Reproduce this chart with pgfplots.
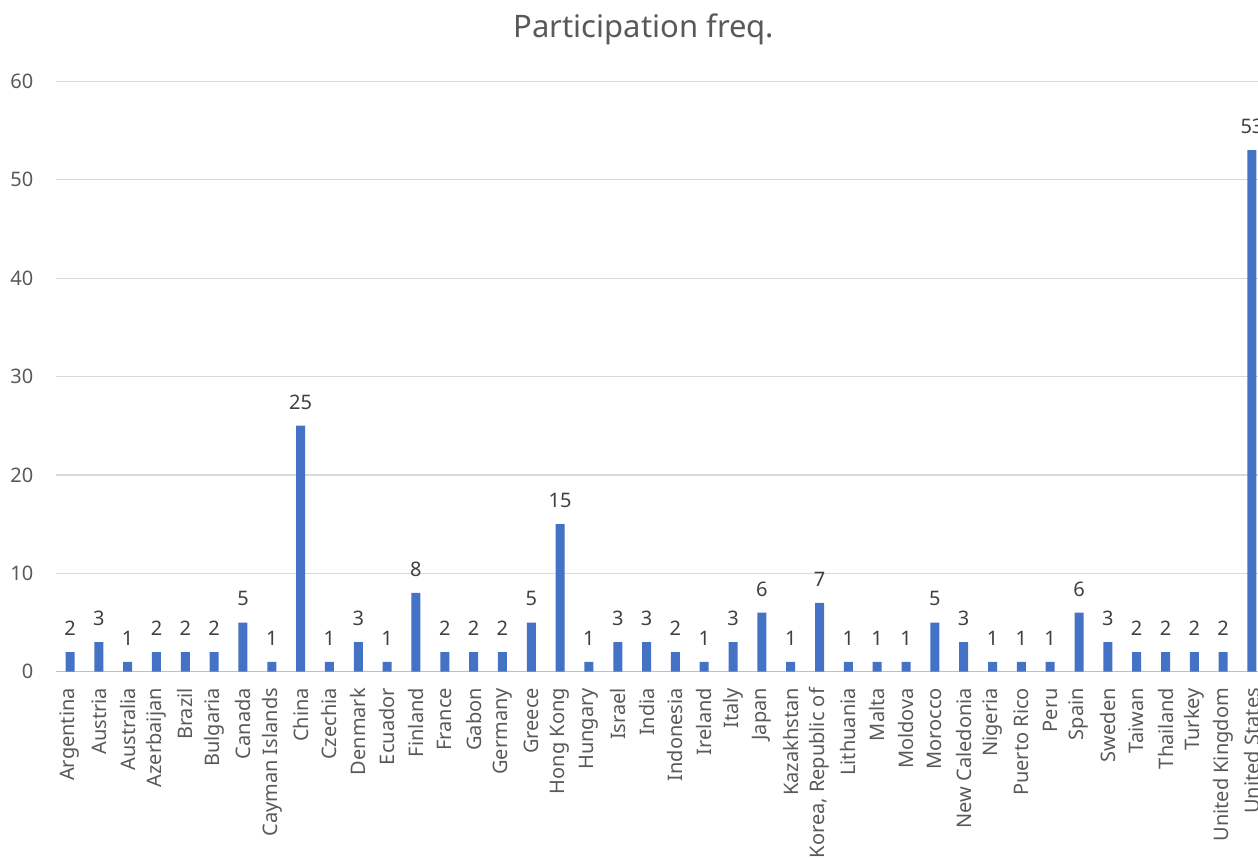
\documentclass[border=0pt]{standalone}
\usepackage{fontspec}
\setmainfont{Noto Sans}
\usepackage{pgfplots}
\pgfplotsset{compat=1.18}
\definecolor{barblue}{HTML}{4472C4}
\definecolor{labelgray}{HTML}{595959}
\definecolor{valgray}{HTML}{404040}
\definecolor{gridgray}{HTML}{D9D9D9}
\definecolor{axisgray}{HTML}{BFBFBF}
\begin{document}
\begin{tikzpicture}
\begin{axis}[
  at={(0,0)}, anchor=south west,
  scale only axis, width=605.4bp, height=295.2bp,
  xmin=-0.5, xmax=41.5, ymin=0, ymax=60,
  /pgf/number format/assume math mode=true,
  ytick={0,10,...,60},
  xtick={0,...,41},
  xticklabels={Argentina,Austria,Australia,Azerbaijan,Brazil,Bulgaria,Canada,
    Cayman Islands,China,Czechia,Denmark,Ecuador,Finland,France,Gabon,Germany,
    Greece,Hong Kong,Hungary,Israel,India,Indonesia,Ireland,Italy,Japan,
    Kazakhstan,{Korea, Republic of},Lithuania,Malta,Moldova,Morocco,
    New Caledonia,Nigeria,Puerto Rico,Peru,Spain,Sweden,Taiwan,Thailand,
    Turkey,United Kingdom,United States},
  ybar, bar width=4.5bp,
  axis x line*=bottom, axis y line*=left,
  x axis line style={-, draw=axisgray, line width=0.7bp},
  y axis line style={draw=none},
  ymajorgrids, grid style={draw=gridgray, line width=0.6bp},
  major tick length=0pt,
  tick label style={font=\fontsize{10bp}{12bp}\selectfont, text=labelgray, inner sep=0pt},
  xticklabel style={rotate=90, anchor=east},
  xticklabel shift=8bp,
  yticklabel style={anchor=east},
  yticklabel shift=11bp,
  nodes near coords,
  nodes near coords style={font=\fontsize{10bp}{12bp}\selectfont, text=valgray,
    inner sep=0pt, anchor=south, yshift=8bp},
  title={Participation freq.},
  title style={font=\fontsize{15.5bp}{18bp}\selectfont, text=labelgray,
    at={(0.5,1)}, anchor=base, yshift=15.7bp, xshift=-8.5bp},
]
\addplot[fill=barblue, draw=none] coordinates {
  (0,2) (1,3) (2,1) (3,2) (4,2) (5,2) (6,5) (7,1) (8,25) (9,1)
  (10,3) (11,1) (12,8) (13,2) (14,2) (15,2) (16,5) (17,15) (18,1) (19,3)
  (20,3) (21,2) (22,1) (23,3) (24,6) (25,1) (26,7) (27,1) (28,1) (29,1)
  (30,5) (31,3) (32,1) (33,1) (34,1) (35,6) (36,3) (37,2) (38,2) (39,2)
  (40,2) (41,53)
};
\end{axis}
\pgfresetboundingbox
\path[use as bounding box] (-27.8bp,-93.15bp) rectangle (601.2bp,335.85bp);
\end{tikzpicture}
\end{document}
